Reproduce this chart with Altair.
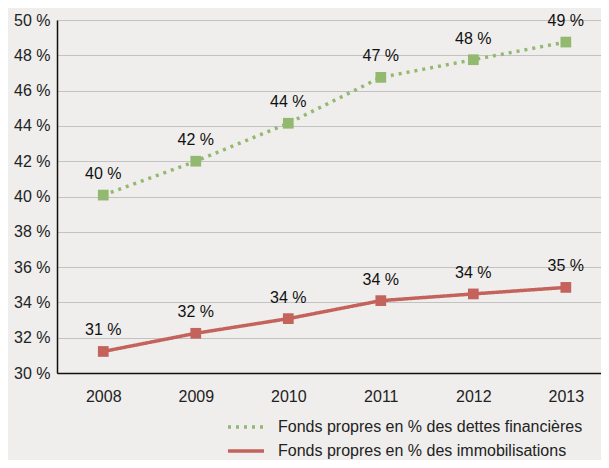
import altair as alt
import pandas as pd

years = [2008, 2009, 2010, 2011, 2012, 2013]
series_names = ["Fonds propres en % des dettes financières",
                "Fonds propres en % des immobilisations"]
dettes = [40.08, 42.0, 44.15, 46.75, 47.75, 48.75]
immob = [31.22, 32.25, 33.08, 34.1, 34.48, 34.85]
dettes_labels = ["40 %", "42 %", "44 %", "47 %", "48 %", "49 %"]
immob_labels = ["31 %", "32 %", "34 %", "34 %", "34 %", "35 %"]
y_ticks = [30, 32, 34, 36, 38, 40, 42, 44, 46, 48, 50]

rows = []
for y, v, l in zip(years, dettes, dettes_labels):
    rows.append({"year": y, "value": v, "label": l, "series": series_names[0]})
for y, v, l in zip(years, immob, immob_labels):
    rows.append({"year": y, "value": v, "label": l, "series": series_names[1]})
df = pd.DataFrame(rows)

GREEN = "#93b86f"
RED = "#c4625c"
FONT = "Liberation Sans"

xscale = alt.Scale(domain=[2007.5, 2013.38], nice=False, zero=False)
yscale = alt.Scale(domain=[30, 50], nice=False, zero=False)

x_enc = alt.X("year:Q", scale=xscale,
              axis=alt.Axis(values=years, format="d", title=None, grid=False,
                            ticks=False, labelPadding=15, domainColor="#111",
                            domainWidth=1.5, labelFontSize=16, labelColor="#222",
                            labelFont=FONT, labelOverlap=False))
y_enc = alt.Y("value:Q", scale=yscale,
              axis=alt.Axis(values=y_ticks, tickCount=11, labelExpr="datum.value + ' %'",
                            title=None, grid=True, gridColor="#c2c2c2", gridWidth=1.2,
                            ticks=False, labelPadding=7, domainColor="#111",
                            domainWidth=1.5, labelFontSize=16, labelColor="#222",
                            labelFont=FONT, labelOverlap=False))

legend = alt.Legend(title=None, orient="none", legendX=177, legendY=395,
                    symbolType="M-1.8,0H1.8", symbolSize=400, symbolStrokeWidth=3.5,
                    labelFontSize=16, labelFont=FONT, labelColor="#222",
                    labelOffset=20, rowPadding=4, padding=0, labelLimit=400)

color_enc = alt.Color("series:N", scale=alt.Scale(domain=series_names, range=[GREEN, RED]),
                      legend=legend, sort=series_names)
dash_enc = alt.StrokeDash("series:N",
                          scale=alt.Scale(domain=series_names, range=[[3, 5], [1, 0]]),
                          legend=legend, sort=series_names)

base = alt.Chart(df)

lines = base.mark_line(strokeWidth=3.5).encode(
    x=x_enc, y=y_enc, color=color_enc, strokeDash=dash_enc, detail="series:N")

points = base.mark_point(shape="square", filled=True, size=115, opacity=1).encode(
    x=x_enc, y=y_enc, color=color_enc)

labels = base.mark_text(dy=-21, fontSize=16, font=FONT, color="#111",
                        baseline="middle").encode(
    x=x_enc, y=y_enc, text="label:N")

chart = alt.layer(lines, points, labels).properties(
    width=544, height=353,
    autosize=alt.AutoSizeParams(type="none"),
    padding={"left": 49, "top": 12, "right": 0, "bottom": 87},
    background="#efeeec",
).configure_view(stroke=None)

chart.save("out.html", embed_options={"renderer": "svg", "actions": False})
